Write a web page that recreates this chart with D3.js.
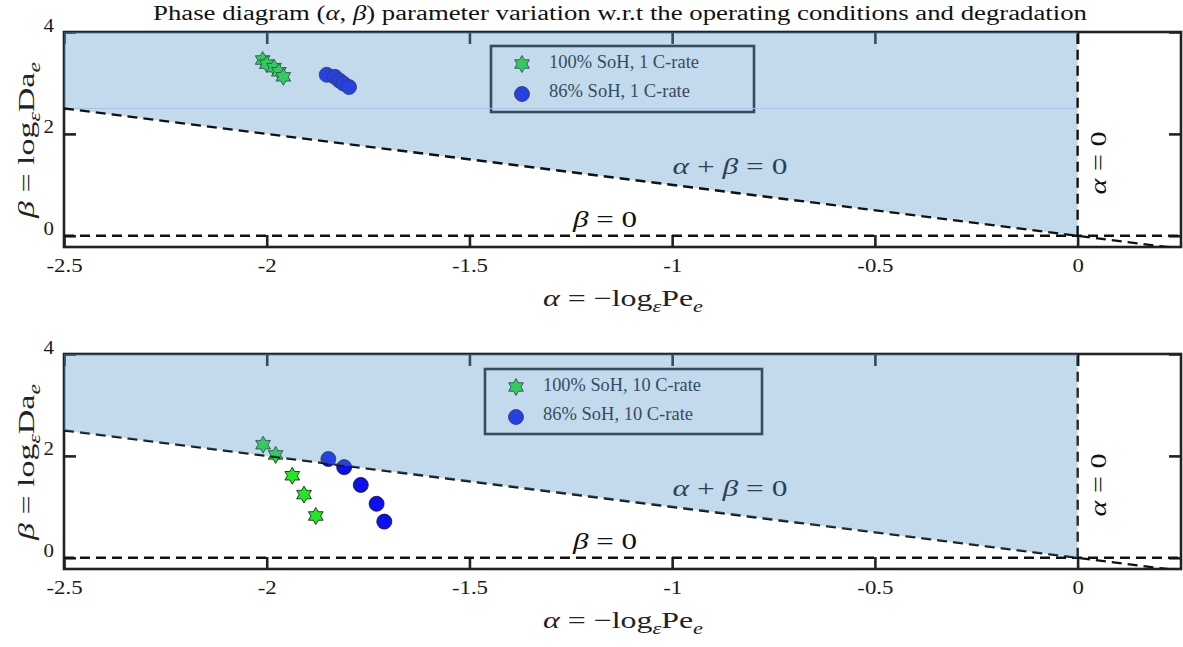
<!DOCTYPE html>
<html>
<head>
<meta charset="utf-8">
<script src="https://cdn.jsdelivr.net/npm/d3@7"></script>
<style>
  html, body { margin: 0; padding: 0; background: #fff; }
  svg { display: block; }
  svg text { font-family: "Liberation Serif", "Times New Roman", serif; }
</style>
</head>
<body>
<svg id="chart" width="1183" height="647"></svg>
<script>
// ---------------- data ----------------
const xTicks = [-2.5, -2, -1.5, -1, -0.5, 0];
const xTickLabels = ["-2.5", "-2", "-1.5", "-1", "-0.5", "0"];
const yTicks = [0, 2, 4];
const yTickLabels = ["0", "2", "4"];

// panel 1 : 1 C-rate
const alpha100_1 = [-2.010, -2.000, -1.982, -1.970, -1.959];
const beta100_1  = [3.45, 3.37, 3.30, 3.22, 3.12];
const alpha86_1  = [-1.852, -1.832, -1.821, -1.811, -1.797];
const beta86_1   = [3.16, 3.12, 3.05, 2.99, 2.92];
// panel 2 : 10 C-rate
const alpha100_10 = [-2.009, -1.978, -1.937, -1.908, -1.879];
const beta100_10  = [2.22, 2.02, 1.61, 1.24, 0.82];
const alpha86_10  = [-1.848, -1.809, -1.768, -1.729, -1.710];
const beta86_10   = [1.94, 1.78, 1.43, 1.06, 0.71];

const legend1 = ["100% SoH, 1 C-rate", "86% SoH, 1 C-rate"];
const legend2 = ["100% SoH, 10 C-rate", "86% SoH, 10 C-rate"];

const xDomain = [-2.5, 0.255];
const yDomain = [-0.22, 4];
const shadeAlpha = [-2.5, 0, 0, -2.5];
const shadeBeta  = [4, 4, 0, 2.5];

// ---------------- drawing ----------------
const svg = d3.select("#chart");
const SERIF = '"Liberation Serif", "Times New Roman", serif';
const GREEN = "#22e822", BLUE = "#0c10ee";
const FILL = "rgb(89,149,203)", FILL_OP = 0.36;

const hexagram = {
  draw(ctx, size) {
    const R = Math.sqrt(size) / 2, r = R / Math.sqrt(3);
    for (let i = 0; i < 12; i++) {
      const a = -Math.PI / 2 + i * Math.PI / 6;
      const rr = i % 2 === 0 ? R : r;
      const px = rr * Math.cos(a), py = rr * Math.sin(a);
      if (i === 0) ctx.moveTo(px, py); else ctx.lineTo(px, py);
    }
    ctx.closePath();
  }
};
const starPath = d3.symbol().type(hexagram).size(17 * 17)();

function mathText(sel, segs, size, len) {
  sel.style("font-family", SERIF).attr("font-size", size);
  segs.forEach(s => {
    const t = sel.append("tspan").text(s.t);
    if (s.it) t.attr("font-style", "italic");
    if (s.sub) { t.attr("font-size", size * 0.7).attr("dy", size * 0.28); }
    if (s.up) { t.attr("dy", -size * 0.28); }
  });
  if (len) sel.attr("textLength", len).attr("lengthAdjust", "spacingAndGlyphs");
}

function stretch(sel, k) {
  sel.each(function () {
    const w = this.getComputedTextLength();
    if (w > 0) d3.select(this).attr("textLength", w * k).attr("lengthAdjust", "spacingAndGlyphs");
  });
}

const title = svg.append("text")
  .attr("x", 620).attr("y", 20).attr("text-anchor", "middle").attr("fill", "#111");
mathText(title, [
  { t: "Phase diagram (" }, { t: "α", it: true }, { t: ", " }, { t: "β", it: true },
  { t: ") parameter variation w.r.t the operating conditions and degradation" }
], 20.5, 934);

function panel(top, A100, B100, A86, B86, legendLabels, legendBox, legendLens, lineOverFill, seam) {
  const x = d3.scaleLinear().domain(xDomain).range([64, 1181]);
  const y = d3.scaleLinear().domain(yDomain).range([top + 215, top]);
  const g = svg.append("g");
  const clipId = "clip" + top;
  svg.append("clipPath").attr("id", clipId).append("rect")
    .attr("x", 64).attr("y", top).attr("width", 1117).attr("height", 215);

  // frame
  g.append("rect").attr("x", 64).attr("y", top).attr("width", 1117).attr("height", 215)
    .attr("fill", "none").attr("stroke", "#222").attr("stroke-width", 2.6);

  // axes
  const axB = g.append("g").attr("transform", `translate(0,${top + 215})`)
    .call(d3.axisBottom(x).tickValues(xTicks).tickSize(-12).tickPadding(12)
      .tickFormat((d, i) => xTickLabels[i]));
  const axT = g.append("g").attr("transform", `translate(0,${top})`)
    .call(d3.axisTop(x).tickValues(xTicks).tickSize(-12).tickFormat(""));
  const axL = g.append("g").attr("transform", `translate(64,0)`)
    .call(d3.axisLeft(y).tickValues(yTicks).tickSize(-12).tickPadding(11)
      .tickFormat((d, i) => yTickLabels[i]));
  const axR = g.append("g").attr("transform", `translate(1181,0)`)
    .call(d3.axisRight(y).tickValues(yTicks).tickSize(-12).tickFormat(""));
  [axB, axT, axL, axR].forEach(a => {
    a.attr("font-family", null).attr("font-size", null);
    a.select(".domain").remove();
    a.selectAll(".tick line").attr("stroke", "#222").attr("stroke-width", 2.6);
    a.selectAll("text").style("font-family", SERIF)
      .style("font-size", "19px").attr("fill", "#1a1a1a");
  });
  axL.selectAll("text").attr("dy", "-0.05em").attr("x", -10);
  stretch(axB.selectAll("text"), 1.2);
  stretch(axL.selectAll("text"), 1.1);

  // axis labels
  const xl = g.append("text").attr("x", 623).attr("y", top + 274)
    .attr("text-anchor", "middle").attr("fill", "#222");
  mathText(xl, [{ t: "α", it: true }, { t: " = −log" }, { t: "ε", it: true, sub: true },
    { t: "Pe", up: true }, { t: "e", it: true, sub: true }], 23, 160);
  const yl = g.append("text")
    .attr("transform", `translate(34,${top + 108}) rotate(-90)`)
    .attr("text-anchor", "middle").attr("fill", "#222");
  mathText(yl, [{ t: "β", it: true }, { t: " = log" }, { t: "ε", it: true, sub: true },
    { t: "Da", up: true }, { t: "e", it: true, sub: true }], 23, 156);

  // annotation under the shading
  const ab = g.append("text").attr("x", 730).attr("y", top + 142)
    .attr("text-anchor", "middle").attr("fill", "#111");
  mathText(ab, [{ t: "α", it: true }, { t: " + " }, { t: "β", it: true }, { t: " = 0" }], 24, 115);

  // legend
  const lg = g.append("g");
  lg.append("rect").attr("x", legendBox[0]).attr("y", legendBox[1])
    .attr("width", legendBox[2]).attr("height", legendBox[3])
    .attr("fill", "#fff").attr("stroke", "#222").attr("stroke-width", 2.6);
  lg.append("path").attr("d", starPath)
    .attr("transform", `translate(${legendBox[0] + 31},${legendBox[1] + 18})`)
    .attr("fill", GREEN).attr("stroke", "#111").attr("stroke-width", 0.8);
  lg.append("circle").attr("cx", legendBox[0] + 31).attr("cy", legendBox[1] + 48).attr("r", 7.5)
    .attr("fill", BLUE).attr("stroke", "#111").attr("stroke-width", 0.8);
  lg.selectAll("text.lab").data(legendLabels).join("text").attr("class", "lab")
    .attr("x", legendBox[0] + 58).attr("y", (d, i) => legendBox[1] + 22 + i * 29)
    .style("font-family", SERIF).attr("font-size", 18).attr("fill", "#222")
    .attr("textLength", (d, i) => legendLens[i]).attr("lengthAdjust", "spacingAndGlyphs")
    .text(d => d);

  // markers
  const mk = g.append("g").attr("clip-path", `url(#${clipId})`);
  mk.selectAll("path.star").data(A100.map((a, i) => [a, B100[i]])).join("path")
    .attr("class", "star").attr("d", starPath)
    .attr("transform", d => `translate(${x(d[0])},${y(d[1])})`)
    .attr("fill", GREEN).attr("stroke", "#111").attr("stroke-width", 0.8);
  mk.selectAll("circle.dot").data(A86.map((a, i) => [a, B86[i]])).join("circle")
    .attr("class", "dot").attr("cx", d => x(d[0])).attr("cy", d => y(d[1])).attr("r", 7.5)
    .attr("fill", BLUE).attr("stroke", "#111").attr("stroke-width", 0.8);

  // dashed reference lines
  const lines = [
    [[-2.5, 0], [0.255, 0]],                 // beta = 0
    [[-2.5, 2.5], [0.255, -0.255]],           // alpha + beta = 0
    [[0, 0], [0, 4]]                          // alpha = 0
  ];
  const lineGen = d3.line().x(d => x(d[0])).y(d => y(d[1]));
  function drawLines(parent, list) {
    parent.selectAll("path.ref").data(list).join("path").attr("class", "ref")
      .attr("d", lineGen).attr("fill", "none").attr("stroke", "#111")
      .attr("stroke-width", 2.4).attr("stroke-dasharray", "10,6")
      .attr("clip-path", `url(#${clipId})`);
  }
  const under = g.append("g");
  if (!lineOverFill) drawLines(under, lines);

  // shaded region
  g.append("path")
    .attr("d", lineGen(shadeAlpha.map((a, i) => [a, shadeBeta[i]])) + "Z")
    .attr("fill", FILL).attr("fill-opacity", FILL_OP);
  if (seam) {
    g.append("path").attr("d", lineGen([[-2.5, 2.5], [0, 2.5]]))
      .attr("stroke", "#a8c4e0").attr("stroke-width", 1).attr("fill", "none");
  }
  const over = g.append("g");
  if (lineOverFill) drawLines(over, lines);

  const b0 = g.append("text").attr("x", 605).attr("y", top + 195)
    .attr("text-anchor", "middle").attr("fill", "#111");
  mathText(b0, [{ t: "β", it: true }, { t: " = 0" }], 24, 64);
  const a0 = g.append("text")
    .attr("transform", `translate(1106,${top + 131}) rotate(-90)`)
    .attr("text-anchor", "middle").attr("fill", "#111");
  mathText(a0, [{ t: "α", it: true }, { t: " = 0" }], 24, 63);
}

panel(32, alpha100_1, beta100_1, alpha86_1, beta86_1, legend1, [491, 46, 263, 66], [150, 141], true, true);
panel(354, alpha100_10, beta100_10, alpha86_10, beta86_10, legend2, [485, 369, 277, 65], [158, 150], false, false);
</script>
</body>
</html>
